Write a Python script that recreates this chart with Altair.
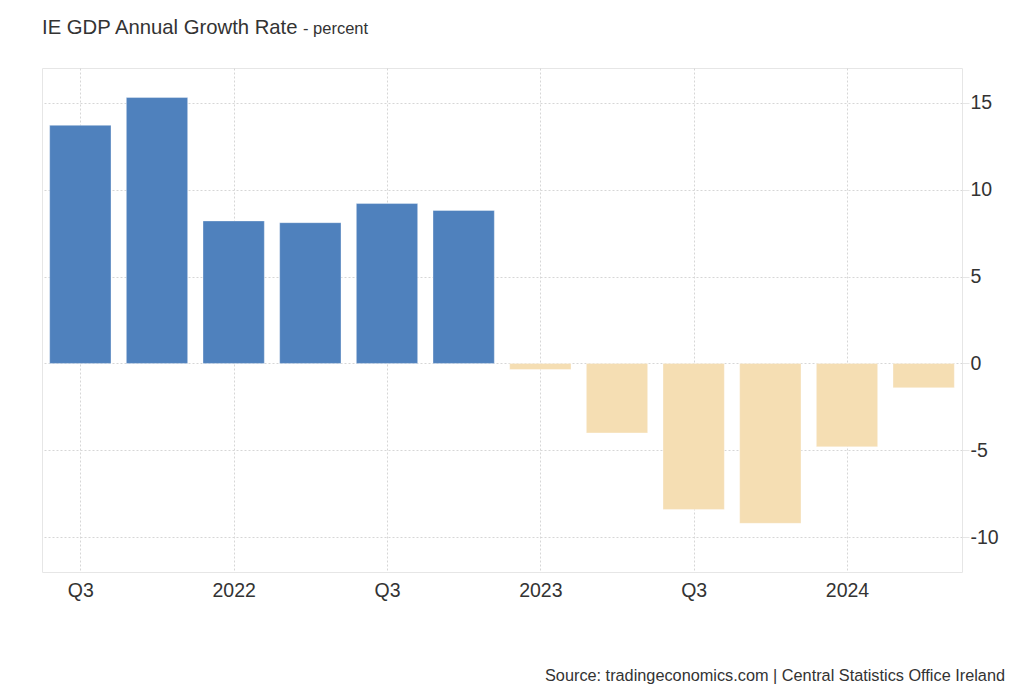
import json
import altair as alt
import pandas as pd

# ---- data ----
quarters = ["2021 Q3", "2021 Q4", "2022 Q1", "2022 Q2", "2022 Q3", "2022 Q4",
            "2023 Q1", "2023 Q2", "2023 Q3", "2023 Q4", "2024 Q1", "2024 Q2"]
growth = [13.7, 15.3, 8.2, 8.1, 9.2, 8.8, -0.35, -4.0, -8.4, -9.2, -4.8, -1.4]
tick_labels = ["Q3", "", "2022", "", "Q3", "", "2023", "", "Q3", "", "2024", ""]
y_ticks = [-10, -5, 0, 5, 10, 15]

title_main = "IE GDP Annual Growth Rate"
title_unit = "- percent"
source_text = "Source: tradingeconomics.com | Central Statistics Office Ireland"

FONT = "Liberation Sans"
POS_COLOR = "#4f81bd"
NEG_COLOR = "#f5deb3"

df = pd.DataFrame({"quarter": quarters, "value": growth, "idx": list(range(len(quarters)))})

tick_values = [i for i, t in enumerate(tick_labels) if t]
label_expr = json.dumps(tick_labels) + "[datum.value]"

x_scale = alt.Scale(domain=[-0.5, len(quarters) - 0.5], nice=False, zero=False)
y_scale = alt.Scale(domain=[-12, 17], nice=False, zero=False)

bars = alt.Chart(df).transform_calculate(
    x0="datum.idx - 0.4",
    x1="datum.idx + 0.4",
    sign="datum.value >= 0 ? 'pos' : 'neg'",
).mark_bar(stroke="white", strokeWidth=1, strokeOpacity=0.35).encode(
    x=alt.X("x0:Q", scale=x_scale, title=None,
            axis=alt.Axis(values=tick_values, labelExpr=label_expr, grid=True,
                          gridColor="#d6d6d6", gridDash=[2, 2], gridWidth=1,
                          ticks=False, domain=False, labelFont=FONT, labelFontSize=19.5,
                          labelColor="#333333", labelPadding=9, labelAngle=0)),
    x2="x1:Q",
    y=alt.Y("value:Q", scale=y_scale, title=None,
            axis=alt.Axis(orient="right", values=y_ticks, grid=True,
                          gridColor="#d6d6d6", gridDash=[2, 2], gridWidth=1,
                          domain=False, ticks=True, tickColor="#e6e6e6", tickSize=7,
                          labelExpr="'' + datum.value",
                          labelFont=FONT, labelFontSize=19.5, labelColor="#333333",
                          labelPadding=1)),
    y2=alt.datum(0),
    color=alt.Color("sign:N", scale=alt.Scale(domain=["pos", "neg"], range=[POS_COLOR, NEG_COLOR]),
                    legend=None),
    tooltip=["quarter", "value"],
)

t_main = alt.Chart(pd.DataFrame({"t": [title_main]})).mark_text(
    align="left", baseline="alphabetic", font=FONT, fontSize=20.3, color="#333333"
).encode(text="t:N", x=alt.value(0), y=alt.value(-34))

t_unit = alt.Chart(pd.DataFrame({"t": [title_unit]})).mark_text(
    align="left", baseline="alphabetic", font=FONT, fontSize=16.5, color="#333333"
).encode(text="t:N", x=alt.value(261), y=alt.value(-34))

t_src = alt.Chart(pd.DataFrame({"t": [source_text]})).mark_text(
    align="right", baseline="alphabetic", font=FONT, fontSize=16.3, color="#333333"
).encode(text="t:N", x=alt.value(963), y=alt.value(613))

chart = alt.layer(bars, t_main, t_unit, t_src).properties(
    width=920,
    height=504,
    autosize=alt.AutoSizeParams(type="none"),
    padding={"left": 42, "top": 68, "right": 62, "bottom": 128},
    background="white",
).configure_view(stroke="#e6e6e6", strokeWidth=1)

chart.save("out.html", embed_options={"renderer": "svg", "actions": False})
